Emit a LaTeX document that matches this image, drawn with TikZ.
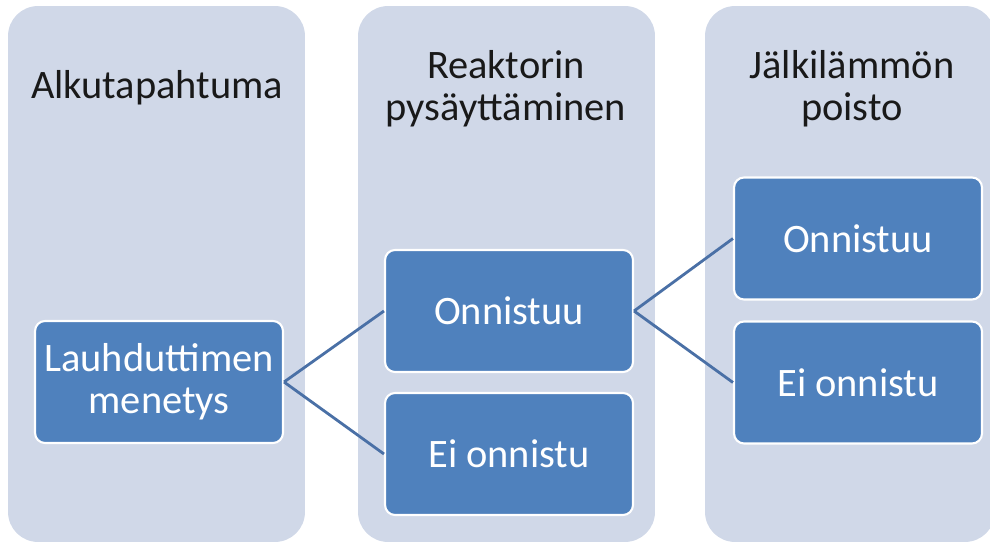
\documentclass[tikz,border=0pt]{standalone}
\usepackage{fontspec}
\setmainfont{Carlito}
\usetikzlibrary{positioning}
\definecolor{colbg}{HTML}{D0D8E8}
\definecolor{boxblue}{HTML}{4F81BD}
\definecolor{linkblue}{HTML}{4A70A6}

\begin{document}
\begin{tikzpicture}[
        x=0.02cm, y=-0.02cm,
        column/.style={rectangle, fill=colbg, rounded corners=0.6cm, minimum width=5.94cm, minimum height=10.72cm, inner sep=0pt},
        head/.style={align=center, font=\fontsize{23}{24}\selectfont, text=black!90},
        box/.style={rectangle, draw=white, line width=1.2pt, fill=boxblue, rounded corners=0.2cm, minimum width=4.96cm, minimum height=2.44cm, align=center, text=white, font=\fontsize{23}{24}\selectfont},
        link/.style={draw=linkblue, line width=1.6pt}
    ]
        \useasboundingbox (0,0) rectangle (990,543);

        % columns
        \node[column] (col1) at (156.5,274) {};
        \node[column] (col2) at (506.5,274) {};
        \node[column, minimum width=5.8cm] (col3) at (850,274) {};

        \node[head] (initiator) at (157,88) {Alkutapahtuma};
        \node[head] (scram) at (506,89) {Reaktorin\\pysäyttäminen};
        \node[head] (heat) at (852,89) {Jälkilämmön\\poisto};

        % event tree
        \node[box] (loss) at (159,382) {Lauhduttimen\\menetys};
        \node[box] (scramok) at (509,311) {Onnistuu};
        \node[box] (scramfail) at (509,454) {Ei onnistu};
        \node[box] (heatok) at (858,238.5) {Onnistuu};
        \node[box] (heatfail) at (858,382.5) {Ei onnistu};

        \draw[link] (loss.east) -- (scramok.west);
        \draw[link] (loss.east) -- (scramfail.west);
        \draw[link] (scramok.east) -- (heatok.west);
        \draw[link] (scramok.east) -- (heatfail.west);
    \end{tikzpicture}
\end{document}
